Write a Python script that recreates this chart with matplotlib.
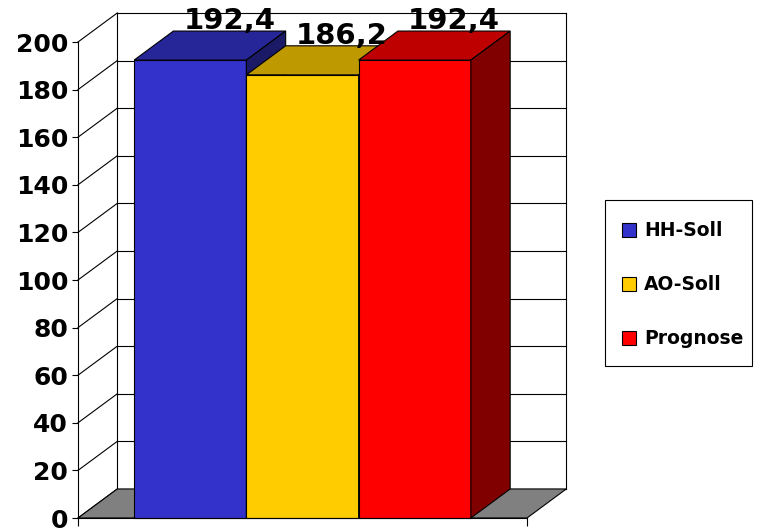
import numpy as np
import matplotlib
matplotlib.use("Agg")
import matplotlib.pyplot as plt
from matplotlib.patches import Polygon, Rectangle

# data
series = ["HH-Soll", "AO-Soll", "Prognose"]
values = [192.4, 186.2, 192.4]
labels = ["192,4", "186,2", "192,4"]
yticks = [0, 20, 40, 60, 80, 100, 120, 140, 160, 180, 200]

front_col = ["#3333CC", "#FFCC00", "#FF0000"]
top_col = ["#262699", "#BF9900", "#BF0000"]
side_col = ["#1A1A66", "#806600", "#800000"]

W, H = 772, 532
# 3d offset (x in category units, y in value units)
dx, dy = 0.35, 12.2
xmax, ymax = 4.0, 200

fig = plt.figure(figsize=(W / 100, H / 100), dpi=100)
ax = fig.add_axes([78 / W, 14 / H, 4.6 * 112.25 / W, 215 * 2.38 / H])
ax.set_xlim(0, 4.6)
ax.set_ylim(0, 215)

def poly(pts, fc, z, lw=0.8):
    ax.add_patch(Polygon(pts, closed=True, facecolor=fc, edgecolor="black",
                         linewidth=lw, zorder=z, clip_on=False))

# walls: left wall diagonals + back wall grid
for v in yticks:
    ax.plot([0, dx], [v, v + dy], color="black", lw=0.8, zorder=1, clip_on=False)
    ax.plot([dx, xmax + dx], [v + dy, v + dy], color="black", lw=0.8, zorder=1, clip_on=False)
ax.plot([dx, dx], [dy, ymax + dy], color="black", lw=0.8, zorder=1, clip_on=False)
ax.plot([xmax + dx, xmax + dx], [dy, ymax + dy], color="black", lw=0.8, zorder=1, clip_on=False)

# floor
poly([(0, 0), (xmax, 0), (xmax + dx, dy), (dx, dy)], "#808080", 2)

# bars
for i, v in enumerate(values):
    x0, x1 = i + 0.5, i + 1.5
    poly([(x0, 0), (x1, 0), (x1, v), (x0, v)], front_col[i], 3 + i)
    poly([(x0, v), (x1, v), (x1 + dx, v + dy), (x0 + dx, v + dy)], top_col[i], 3 + i)
    poly([(x1, 0), (x1 + dx, dy), (x1 + dx, v + dy), (x1, v)], side_col[i], 3 + i)
    ax.text(i + 1 + dx, v + dy + 0.8, labels[i], ha="center", va="baseline",
            fontsize=21, fontweight="bold", zorder=10)

# axes
for s in ["top", "right"]:
    ax.spines[s].set_visible(False)
ax.spines["left"].set_bounds(0, ymax)
ax.spines["bottom"].set_bounds(0, xmax)
ax.spines["left"].set_zorder(6)
ax.spines["bottom"].set_zorder(6)
ax.set_yticks(yticks)
ax.set_yticklabels([str(t) for t in yticks], fontsize=18, fontweight="bold")
ax.set_xticks([0, xmax])
ax.set_xticklabels(["", ""])
ax.tick_params(axis="y", length=4, width=0.8, pad=3)
ax.tick_params(axis="x", length=6, width=0.8)
ax.patch.set_visible(False)

# legend box drawn by hand (figure pixel coords, origin top-left)
def fx(px):
    return px / W

def fy(py):
    return 1 - py / H

fig.patches.append(Rectangle((fx(605), fy(366)), fx(752) - fx(605), fy(200) - fy(366),
                             transform=fig.transFigure, facecolor="white",
                             edgecolor="black", linewidth=0.8))
for i, name in enumerate(series):
    yc = 230 + 54 * i
    fig.text(fx(644), fy(yc), name, ha="left", va="center",
             fontsize=13.5, fontweight="bold")
    fig.patches.append(Rectangle((fx(622), fy(yc + 7)), fx(636) - fx(622), fy(yc - 7) - fy(yc + 7),
                                 transform=fig.transFigure, facecolor=front_col[i],
                                 edgecolor="black", linewidth=0.8))

fig.savefig("out.png", dpi=100)
